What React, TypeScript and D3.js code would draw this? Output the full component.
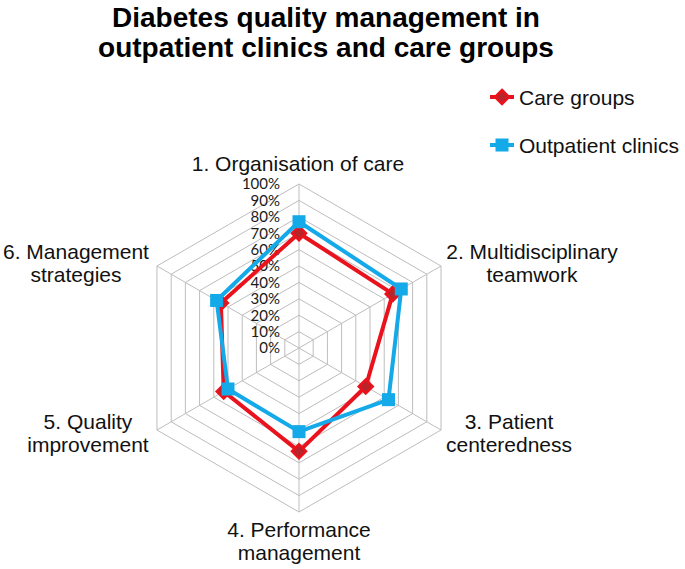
import React from "react";
import * as d3 from "d3";

const categories: string[][] = [
  ["1. Organisation of care"],
  ["2. Multidisciplinary", "teamwork"],
  ["3. Patient", "centeredness"],
  ["4. Performance", "management"],
  ["5. Quality", "improvement"],
  ["6. Management", "strategies"],
];
const careGroups = [0.70, 0.66, 0.47, 0.63, 0.53, 0.55];
const outpatientClinics = [0.77, 0.72, 0.63, 0.51, 0.50, 0.58];
const tickValues = [0, 0.1, 0.2, 0.3, 0.4, 0.5, 0.6, 0.7, 0.8, 0.9, 1.0];
const titleLines = ["Diabetes quality management in", "outpatient clinics and care groups"];
const seriesNames = ["Care groups", "Outpatient clinics"];

const W = 685, H = 569;
const cx = 299, cy = 348, R = 164;
const RED = "#ea121c";
const RED_DARK = "#b8242a";
const BLUE = "#14a9e8";
const GRID = "#bdbdbd";
const LABEL_FONT = "'Liberation Sans', Arial, sans-serif";

// label center offsets from outer vertex
const labelOffsets: [number, number][] = [
  [-1, -21],
  [91, -3],
  [68, 3],
  [0, 29],
  [-69, 3],
  [-81, -3],
];

export default function App() {
  const r = d3.scaleLinear().domain([0, 1]).range([0, R]);
  const angle = (i: number) => (-90 + 60 * i) * Math.PI / 180;
  const pt = (i: number, v: number): [number, number] => [
    cx + r(v) * Math.cos(angle(i)),
    cy + r(v) * Math.sin(angle(i)),
  ];
  const n = categories.length;
  const lineGen = d3.line<number>().x((v, i) => pt(i, v)[0]).y((v, i) => pt(i, v)[1]).curve(d3.curveLinearClosed);

  const ring = (v: number) => d3.range(n).map((i) => pt(i, v));
  const ringPath = (v: number) => d3.line().curve(d3.curveLinearClosed)(ring(v) as [number, number][]) || "";

  return (
    <svg width={W} height={H} style={{ position: "absolute", left: 0, top: 0, background: "#fff" }}>
      <rect width={W} height={H} fill="#fff" />
      {titleLines.map((t, i) => (
        <text key={i} x={326} y={27 + i * 30} textAnchor="middle" fontFamily={LABEL_FONT} fontWeight="bold" fontSize={28} fill="#000">
          {t}
        </text>
      ))}
      {/* grid */}
      <g fill="none" stroke={GRID} strokeWidth={1}>
        {tickValues.slice(1).map((v) => (
          <path key={v} d={ringPath(v)} />
        ))}
        {d3.range(n).map((i) => {
          const [x, y] = pt(i, 1);
          return <line key={i} x1={cx} y1={cy} x2={x} y2={y} />;
        })}
      </g>
      {/* tick labels */}
      {tickValues.map((v) => (
        <text key={v} x={cx - 19} y={cy - r(v)} dy="0.36em" textAnchor="end" fontFamily="Lato, 'Noto Sans', sans-serif" fontSize={15} fill="#1a1a1a">
          {`${Math.round(v * 100)}%`}
        </text>
      ))}
      {/* axis labels */}
      {categories.map((lines, i) => {
        const [vx, vy] = pt(i, 1);
        const [dx, dy] = labelOffsets[i];
        const lx = vx + dx;
        const ly = vy + dy;
        const lh = 23.5;
        const top = ly - ((lines.length - 1) * lh) / 2;
        return (
          <text key={i} textAnchor="middle" fontFamily={LABEL_FONT} fontSize={21} fill="#111">
            {lines.map((l, j) => (
              <tspan key={j} x={lx} y={top + j * lh + 7.5}>{l}</tspan>
            ))}
          </text>
        );
      })}
      {/* series: care groups */}
      <path d={lineGen(careGroups) || ""} fill="none" stroke={RED} strokeWidth={4} strokeLinejoin="round" />
      {careGroups.map((v, i) => {
        const [x, y] = pt(i, v);
        return <path key={i} d={`M${x},${y - 7}L${x + 7},${y}L${x},${y + 7}L${x - 7},${y}Z`} fill={RED_DARK} stroke={RED} strokeWidth={2.5} />;
      })}
      {/* series: outpatient */}
      <path d={lineGen(outpatientClinics) || ""} fill="none" stroke={BLUE} strokeWidth={4} strokeLinejoin="round" />
      {outpatientClinics.map((v, i) => {
        const [x, y] = pt(i, v);
        return <rect key={i} x={x - 6.5} y={y - 6.5} width={13} height={13} fill={BLUE} />;
      })}
      {/* legend */}
      {seriesNames.map((s, i) => {
        const ly = 97 + i * 48;
        return (
          <g key={s}>
            <line x1={490} x2={514} y1={ly} y2={ly} stroke={i === 0 ? RED : BLUE} strokeWidth={4} />
            {i === 0 ? (
              <path d={`M502,${ly - 7}L509,${ly}L502,${ly + 7}L495,${ly}Z`} fill={RED_DARK} stroke={RED} strokeWidth={2.5} />
            ) : (
              <rect x={495.5} y={ly - 6.5} width={13} height={13} fill={BLUE} />
            )}
            <text x={519} y={ly + 7.5} fontFamily={LABEL_FONT} fontSize={21} fill="#111">{s}</text>
          </g>
        );
      })}
    </svg>
  );
}
